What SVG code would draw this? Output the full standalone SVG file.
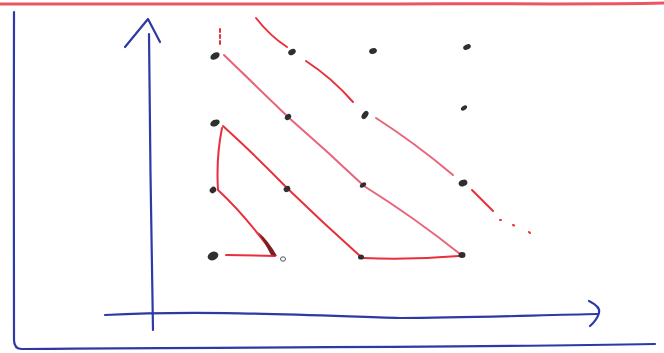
<svg xmlns="http://www.w3.org/2000/svg" width="664" height="353" viewBox="0 0 664 353">
<style>
.blue{fill:none;stroke:#2c3aa6;stroke-width:2.2;stroke-linecap:round;stroke-linejoin:round}
.red{fill:none;stroke:#ea2f3c;stroke-width:2;stroke-linecap:round;stroke-linejoin:round}
.pink{fill:none;stroke:#e9637a;stroke-width:2;stroke-linecap:round;stroke-linejoin:round}
.dot{fill:#2f2f2f}
</style>
<rect width="664" height="353" fill="#ffffff"/>
<g id="frame">
<path d="M0,4 C120,3 250,5 380,4 C480,3 580,5 664,3" fill="none" stroke="#ec5562" stroke-width="3"/>
<path class="blue" d="M14,12 C13,120 15,250 14,340 Q14,349 22,349 C200,347 450,348 655,344"/>
</g>
<g id="axes">
<path class="blue" d="M153,330 C151,250 150,120 149,34"/>
<path class="blue" d="M125,47 L148,19 L160,42"/>
<path class="blue" d="M105,315 C200,310 300,315 400,318 C470,318 540,315 598,314"/>
<path class="blue" d="M589,301 Q601,307 599,313 Q597,320 590,326"/>
</g>
<g id="connectors">
<path class="red" d="M220,29 L220,45" stroke-dasharray="3 3"/>
<path class="red" d="M256,18 Q270,36 287,47"/>
<path class="red" d="M306,61 Q332,78 353,102"/>
<path class="pink" d="M376,118 Q415,143 453,175"/>
<path class="red" d="M472,190 L493,211"/>
<path class="red" d="M500,220 L501,220 M513,225 L514,225.5 M529,232 L530,233" stroke-width="2.4"/>
<path class="pink" d="M224,55 Q256,86 288,117 Q326,150 364,186 Q415,218 460,254"/>
<path class="red" d="M223,126 Q255,155 287,188 Q322,222 360,256"/>
<path class="red" d="M363,258 Q410,260 459,256"/>
<path class="red" d="M222,128 Q216,158 218,190 Q245,215 275,256 L226,255"/>
<path fill="#7a1f22" d="M258,232 Q268,240 277,256 L271,255 Q265,243 258,232 Z"/>
</g>
<g id="n11"><ellipse class="dot" cx="215" cy="56" rx="5" ry="3.2" transform="rotate(-30 215 56)"/></g>
<g id="n12"><ellipse class="dot" cx="292" cy="52" rx="4" ry="2.8" transform="rotate(-30 292 52)"/></g>
<g id="n13"><ellipse class="dot" cx="373" cy="51" rx="4" ry="2.8" transform="rotate(-20 373 51)"/></g>
<g id="n14"><ellipse class="dot" cx="467" cy="47" rx="4" ry="2.6" transform="rotate(-25 467 47)"/></g>
<g id="n21"><ellipse class="dot" cx="215" cy="123" rx="5" ry="3.2" transform="rotate(-25 215 123)"/></g>
<g id="n22"><ellipse class="dot" cx="288" cy="117" rx="3.5" ry="2.6" transform="rotate(-40 288 117)"/></g>
<g id="n23"><ellipse class="dot" cx="365" cy="115" rx="4.5" ry="2.8" transform="rotate(-55 365 115)"/></g>
<g id="n24"><ellipse class="dot" cx="464" cy="108" rx="3.5" ry="2" transform="rotate(-35 464 108)"/></g>
<g id="n31"><ellipse class="dot" cx="213" cy="190" rx="3.5" ry="3" transform="rotate(-40 213 190)"/></g>
<g id="n32"><ellipse class="dot" cx="287" cy="189" rx="3.5" ry="2.8" transform="rotate(-30 287 189)"/></g>
<g id="n33"><ellipse class="dot" cx="363" cy="185" rx="3.5" ry="2.2" transform="rotate(-35 363 185)"/></g>
<g id="n34"><ellipse class="dot" cx="463" cy="183" rx="4.5" ry="3.2" transform="rotate(-20 463 183)"/></g>
<g id="n41"><ellipse class="dot" cx="213" cy="256" rx="5.5" ry="4.2" transform="rotate(-25 213 256)"/></g>
<g id="n42"><ellipse cx="283" cy="259" rx="2.5" ry="2.2" fill="none" stroke="#555" stroke-width="1"/></g>
<g id="n43"><ellipse class="dot" cx="361" cy="257" rx="3" ry="2.6"/></g>
<g id="n44"><ellipse class="dot" cx="462" cy="255" rx="3.5" ry="3"/></g>
</svg>
